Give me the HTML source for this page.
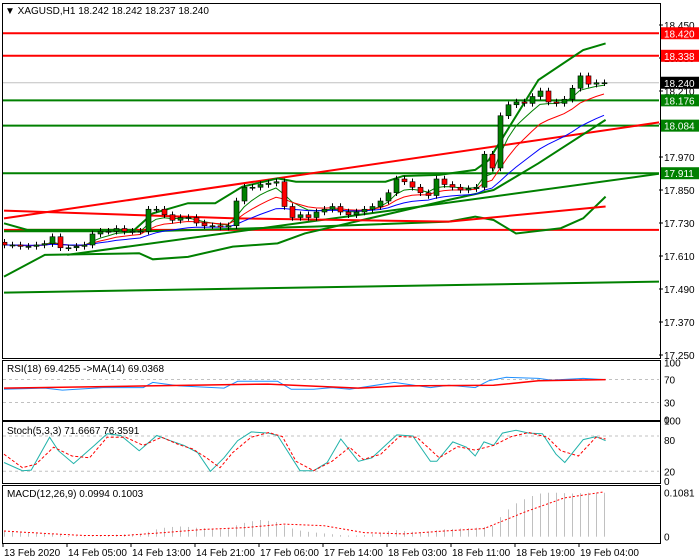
<!DOCTYPE html>
<html><head><meta charset="utf-8"><style>
html,body{margin:0;padding:0;background:#fff}
svg{display:block;font-family:"Liberation Sans",sans-serif;font-size:10px}
</style></head><body>
<svg id="c" width="700" height="560" viewBox="0 0 700 560"></svg>
<script>
const closes=[17.65,17.65,17.645,17.645,17.65,17.655,17.68,17.64,17.64,17.645,
17.65,17.69,17.70,17.70,17.71,17.70,17.70,17.70,17.78,17.78,
17.76,17.74,17.75,17.75,17.73,17.72,17.72,17.715,17.72,17.81,
17.86,17.86,17.87,17.875,17.88,17.79,17.75,17.76,17.75,17.77,
17.78,17.79,17.77,17.76,17.77,17.78,17.79,17.81,17.84,17.89,
17.88,17.86,17.84,17.83,17.89,17.87,17.86,17.85,17.855,17.86,
17.98,17.93,18.12,18.16,18.17,18.165,18.19,18.21,18.17,18.165,
18.18,18.22,18.265,18.235,18.24,18.24];
const firstOpen=17.66;
const upIdx=[0,2.9,16.3,18.6,23,26.4,29.8,34.2,36.5,47.7,49.9,54.4,58.9,60.6,66.8,72.4,75.2];
const upVal=[17.729,17.705,17.705,17.765,17.802,17.802,17.862,17.892,17.880,17.880,17.901,17.905,17.923,17.959,18.25,18.359,18.383];
const loIdx=[0,5.1,16.9,18.6,23,28.6,34.2,37.6,55.6,61.2,66.8,75.2];
const loVal=[17.535,17.614,17.62,17.598,17.607,17.644,17.656,17.692,17.814,17.85,17.947,18.105];
const g2Idx=[0,18,38.7,55.6,58.9,61.2,64,69.6,72.4,75.2];
const g2Val=[17.70,17.70,17.717,17.735,17.753,17.741,17.692,17.711,17.747,17.826];
const r2Idx=[0,29,55.6,75.2];
const r2Val=[17.775,17.747,17.735,17.79];
const hLevels=[18.420,18.338,18.176,18.084,17.911];
const hColors=["#ff0000","#ff0000","#008000","#008000","#008000"];
const priceTicks=[18.450,18.330,18.210,18.090,17.970,17.850,17.730,17.610,17.490,17.370,17.250];
const rsiIdx=[0,5.1,7.3,12.4,17.4,18.6,21.9,27.5,29.2,34.2,35.9,38.7,41,43.2,48.8,53.3,55.6,58.9,60.6,62.8,66.8,68.4,72.4,75.2];
const rsiVal=[53,55,51.5,56,56,65,59,55,67,67,53,53,56,53,65,56,60,56,68,74,72,69,72,70];
const rsiMaIdx=[0,18,33,44.3,50,61.2,66.8,75.2];
const rsiMaVal=[55,59,62,55,59,60,68,70];
const kIdx=[0,2.3,3.4,5.7,6.8,8.7,11.3,12.9,14.6,16.9,19.1,20.8,22.5,24.2,25.8,27.5,29.2,30.9,33.1,34.2,37,38.7,40.4,42.1,44.3,46,49.1,51.1,53.3,54.1,56.1,57.8,58.9,60,61.2,62.3,64,65.6,67.3,69,70.1,72.4,74,75.2];
const kVal=[35,21,22,78,55,33,64,84,81,55,81,72,64,52,20,43,72,87,85,81,21,21,35,75,37,43,82,80,37,37,70,61,46,70,64,85,90,85,84,49,35,74,79,72];
const dIdx=[0,2.3,4,6.2,8.5,10.7,12.9,15.2,17.4,19.7,21.9,23.6,25.3,27,28.6,30.9,33.1,34.8,36.5,38.7,41,43.2,44.9,47.1,49.4,51.6,54.4,56.7,58.9,61.2,63.4,65.6,67.9,69.6,71.8,74,75.2];
const dVal=[49,26,32,61,46,43,78,78,64,78,65,58,43,26,52,78,86,79,37,21,37,61,40,49,79,78,43,62,56,64,79,86,78,55,46,78,75];
const macdHist=[0.014,0.012,0.010,0.010,0.008,0.007,0.006,0.006,0.002,0.001,0.000,0.001,0.003,
0.004,0.005,0.006,0.006,0.007,0.012,0.018,0.022,0.024,0.025,0.024,0.022,0.021,0.020,0.018,0.020,
0.028,0.034,0.038,0.041,0.039,0.036,0.028,0.020,0.015,0.012,0.010,0.008,0.006,0.004,0.003,0.003,0.004,0.006,
0.010,0.014,0.016,0.014,0.012,0.011,0.013,0.016,0.018,0.019,0.020,0.021,0.022,0.024,0.027,
0.048,0.067,0.082,0.092,0.100,0.106,0.108,0.108,0.107,0.106,0.107,0.108,0.108,0.108];
const sigIdx=[0,5,10,15,20,25,30,35,40,45,50,55,60,65,70,75];
const sigVal=[0.014,0.008,0.003,0.003,0.010,0.018,0.022,0.031,0.027,0.010,0.007,0.014,0.020,0.060,0.095,0.110];
const timeLabels=["13 Feb 2020","14 Feb 05:00","14 Feb 13:00","14 Feb 21:00","17 Feb 06:00","17 Feb 14:00","18 Feb 03:00","18 Feb 11:00","18 Feb 19:00","19 Feb 04:00"];

const svg=document.getElementById('c');const NS='http://www.w3.org/2000/svg';
function el(t,a,p){const e=document.createElementNS(NS,t);for(const k in a)e.setAttribute(k,a[k]);(p||svg).appendChild(e);return e;}
const X=i=>4+8*i;
const Y=p=>25+(18.45-p)*275;
const RY=v=>419.6-v*0.572;
const SY=v=>483-v*0.587;
const MY=v=>536.7-v*(44/0.1081);
function poly(xs,ys,fy,attrs,name){const pts=xs.map((x,i)=>X(x).toFixed(1)+','+fy(ys[i]).toFixed(1)).join(' ');
const e=el('polyline',Object.assign({points:pts,fill:'none'},attrs));

return e;}

// panels
const panels=[[2,3,658,355,'main-panel'],[2,360,658,60,'rsi-panel'],[2,421,658,62,'stoch-panel'],[2,485,658,58,'macd-panel']];
panels.forEach(p=>{const r=el('rect',{x:p[0]+0.5,y:p[1]+0.5,width:p[2],height:p[3],fill:'#fff',stroke:'#000'});

});

// clip for main
const defs=el('defs',{});const cp=el('clipPath',{id:'mc'},defs);el('rect',{x:3,y:4,width:656,height:353},cp);
const g=el('g',{'clip-path':'url(#mc)'});

// horizontal current price
el('line',{x1:3,x2:659,y1:Y(18.240),y2:Y(18.240),stroke:'#c0c0c0'},g);

// thick lines
function tline(i1,p1,i2,p2,col,name){const e=el('line',{x1:X(i1),y1:Y(p1),x2:X(i2),y2:Y(p2),stroke:col,'stroke-width':2},g);

}
hLevels.forEach((v,k)=>tline(-1,v,83,v,hColors[k],'level-line'));
tline(0,17.747,82.4,18.098,'#ff0000','red-trend-line');
tline(0,17.705,82.4,17.705,'#ff0000','red-flat-line');
tline(7.9,17.614,82.4,17.911,'#008000','green-trend-line');
tline(0,17.477,82.4,17.517,'#008000','green-bottom-line');
[['upper-band',upIdx,upVal],['lower-band',loIdx,loVal],['outer-band',g2Idx,g2Val]].forEach(b=>{
 const pts=b[1].map((x,i)=>X(x)+','+Y(b[2][i])).join(' ');
 const e=el('polyline',{points:pts,fill:'none',stroke:'#008000','stroke-width':2},g);
 
 });
{const pts=r2Idx.map((x,i)=>X(x)+','+Y(r2Val[i])).join(' ');
 const e=el('polyline',{points:pts,fill:'none',stroke:'#ff0000','stroke-width':2},g);
 
 }

// EMAs
function ema(n){const k=2/(n+1);let v=closes[0];return closes.map(c=>(v=v+(c-v)*k));}
[[5,'#008000','ema-fast'],[10,'#ff0000','ema-mid'],[20,'#0000ff','ema-slow']].forEach(m=>{
 const a=ema(m[0]);const pts=a.map((v,i)=>X(i)+','+Y(v).toFixed(1)).join(' ');
 const e=el('polyline',{points:pts,fill:'none',stroke:m[1],'stroke-width':1},g);
 
 });

// candles
closes.forEach((c,i)=>{const o=i?closes[i-1]:firstOpen;const hi=Math.max(o,c)+0.012,lo=Math.min(o,c)-0.012;
 const w=el('line',{x1:X(i)+0.5,x2:X(i)+0.5,y1:Y(hi),y2:Y(lo),stroke:'#000'},g);
 
 
 const top=Y(Math.max(o,c)),h=Math.max(1,Math.abs(Y(o)-Y(c)));
 const r=el('rect',{x:X(i)-2,y:top,width:5,height:h,fill:c>=o?'#008000':'#ff0000',stroke:'#000','stroke-width':0.6},g);
 
 });

// price axis
priceTicks.forEach(v=>{el('line',{x1:659,x2:663,y1:Y(v),y2:Y(v),stroke:'#000'});
 const t=el('text',{x:664,y:Y(v)+4,fill:'#000'});t.textContent=v.toFixed(3);
 
 });
function tag(v,bg,fg,name){const r=el('rect',{x:661,y:Y(v)-6,width:38,height:12,fill:bg});
 
 
 const t=el('text',{x:664,y:Y(v)+4,fill:fg});t.textContent=v.toFixed(3);}
hLevels.forEach((v,k)=>tag(v,hColors[k],'#fff','level-tag'));
tag(18.240,'#000','#fff','current-price-tag');

const hdr=el('text',{x:5,y:14,fill:'#000'});hdr.textContent='▼ XAGUSD,H1  18.242 18.242 18.237 18.240';



// RSI
[70,30].forEach(v=>el('line',{x1:3,x2:659,y1:RY(v),y2:RY(v),stroke:'#c0c0c0','stroke-dasharray':'3,3'}));
poly(rsiIdx,rsiVal,RY,{stroke:'#1e90ff','stroke-width':1},'rsi-line');
poly(rsiMaIdx,rsiMaVal,RY,{stroke:'#ff0000','stroke-width':1.5},'rsi-ma-line');
[[100,'100'],[70,'70'],[30,'30'],[0,'0']].forEach(a=>{const t=el('text',{x:664,y:RY(a[0])+4});t.textContent=a[1];});
{const t=el('text',{x:7,y:372});t.textContent='RSI(18) 69.4255  ->MA(14) 69.0368';

}

// Stoch
[80,20].forEach(v=>el('line',{x1:3,x2:659,y1:SY(v),y2:SY(v),stroke:'#c0c0c0','stroke-dasharray':'3,3'}));
poly(kIdx,kVal,SY,{stroke:'#20b2aa','stroke-width':1},'stoch-k-line');
poly(dIdx,dVal,SY,{stroke:'#ff0000','stroke-width':1,'stroke-dasharray':'3,2'},'stoch-d-line');
[[100,'100',-4],[80,'80',4],[20,'20',0],[0,'0',-2]].forEach(a=>{const t=el('text',{x:664,y:SY(a[0])+4+a[2]});t.textContent=a[1];});
{const t=el('text',{x:7,y:434});t.textContent='Stoch(5,3,3) 71.6667 76.3591';

}

// MACD
macdHist.forEach((v,i)=>{const y=MY(v);const r=el('rect',{x:X(i),y:Math.min(y,MY(0)),width:1,height:Math.max(0.5,Math.abs(MY(0)-y)),fill:'#c0c0c0'});
 
 });
poly(sigIdx,sigVal,MY,{stroke:'#ff0000','stroke-width':1,'stroke-dasharray':'2,2'},'macd-signal-line');
{const t=el('text',{x:664,y:MY(0.1081)+4});t.textContent='0.1081';
const t2=el('text',{x:664,y:MY(0)+4});t2.textContent='0';
const t3=el('text',{x:7,y:497});t3.textContent='MACD(12,26,9) 0.0994 0.1003';

}

// time axis
timeLabels.forEach((s,k)=>{const x=X(k*8)-1;el('line',{x1:x,x2:x,y1:543,y2:547,stroke:'#000'});
 const t=el('text',{x:x+1,y:556});t.textContent=s;
 
 });
</script>
</body></html>
